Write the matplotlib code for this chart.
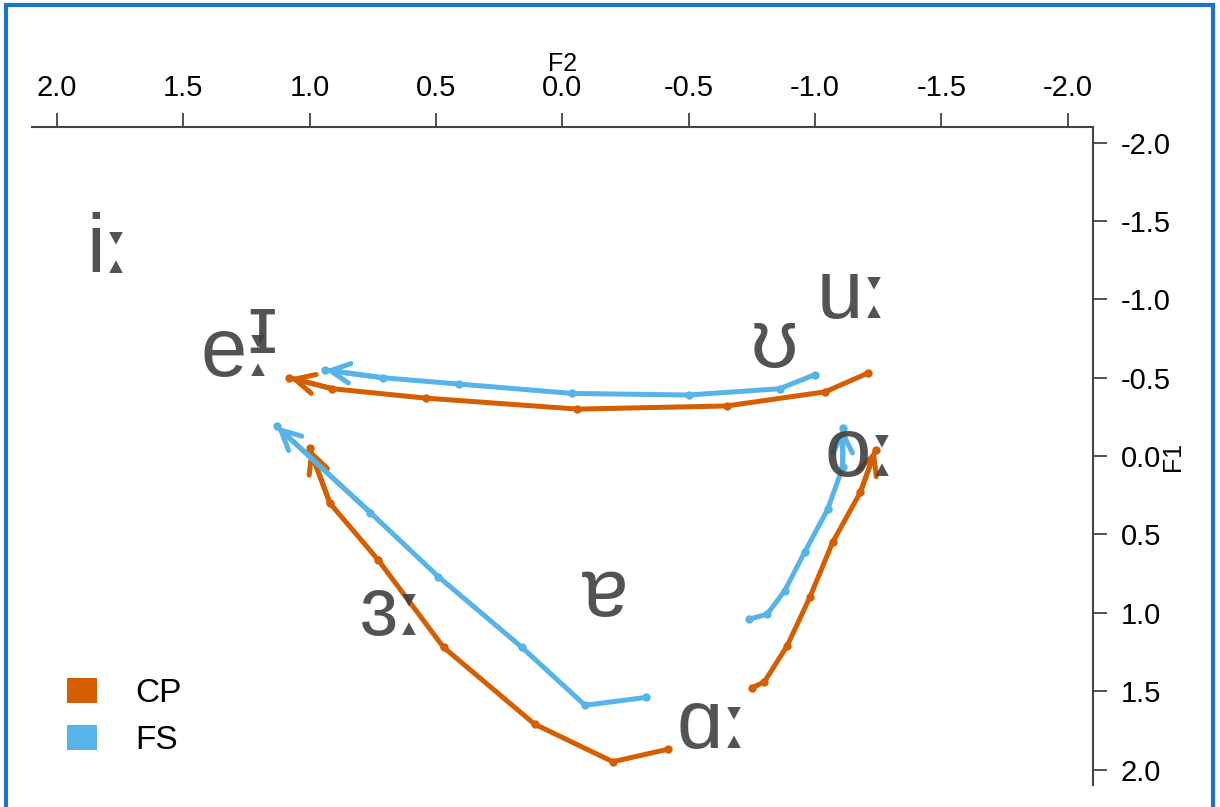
import matplotlib
matplotlib.use("Agg")
import matplotlib.pyplot as plt
from matplotlib.patches import Patch, Rectangle

# trajectories (F2, F1), start -> end
cp_top_f2 = [-1.21, -1.04, -0.65, -0.06, 0.54, 0.91, 1.08]
cp_top_f1 = [-0.53, -0.41, -0.32, -0.30, -0.37, -0.43, -0.50]
cp_left_f2 = [-0.42, -0.20, 0.11, 0.47, 0.73, 0.92, 1.00]
cp_left_f1 = [1.87, 1.95, 1.71, 1.22, 0.66, 0.30, -0.05]
cp_right_f2 = [-0.75, -0.80, -0.89, -0.98, -1.07, -1.18, -1.24]
cp_right_f1 = [1.48, 1.44, 1.21, 0.90, 0.55, 0.23, -0.04]

fs_top_f2 = [-1.00, -0.86, -0.50, -0.04, 0.41, 0.71, 0.94]
fs_top_f1 = [-0.52, -0.43, -0.39, -0.40, -0.46, -0.50, -0.55]
fs_left_f2 = [-0.33, -0.09, 0.16, 0.49, 0.76, 1.13]
fs_left_f1 = [1.54, 1.59, 1.22, 0.77, 0.36, -0.19]
fs_right_f2 = [-0.74, -0.81, -0.88, -0.96, -1.05, -1.11, -1.11]
fs_right_f1 = [1.04, 1.01, 0.86, 0.61, 0.34, 0.07, -0.18]

# vowel labels (position = baseline, at the join of vowel and length mark)
vowels = ["iː", "eː", "ɪ", "uː", "ʊ", "oː", "ɜː", "ɐ", "ɑː"]
vowel_f2 = [1.81, 1.25, 1.19, -1.19, -0.84, -1.22, 0.65, -0.17, -0.635]
vowel_f1 = [-1.17, -0.51, -0.66, -0.88, -0.57, 0.13, 1.14, 1.02, 1.86]

ticks = [2.0, 1.5, 1.0, 0.5, 0.0, -0.5, -1.0, -1.5, -2.0]
tick_labels = ["2.0", "1.5", "1.0", "0.5", "0.0", "-0.5", "-1.0", "-1.5", "-2.0"]

CP_COL = "#D55E00"
FS_COL = "#56B4E9"
TXT_COL = "#404040"

plt.rcParams['font.family'] = ['Liberation Sans', 'DejaVu Sans']

fig = plt.figure(figsize=(12.2, 8.07), dpi=100)
ax = fig.add_axes([0.026, 0.027, 0.8698, 0.8156])


def trajectory(f2, f1, col):
    ax.plot(f2, f1, color=col, lw=3.6, marker='o', markersize=5,
            solid_capstyle='round', zorder=3)
    ax.annotate('', xy=(f2[-1], f1[-1]), xytext=(f2[-2], f1[-2]),
                arrowprops=dict(arrowstyle='->,head_length=0.7,head_width=0.35',
                                color=col, lw=3.6, shrinkA=0, shrinkB=0,
                                mutation_scale=20),
                zorder=3)


trajectory(cp_top_f2, cp_top_f1, CP_COL)
trajectory(cp_left_f2, cp_left_f1, CP_COL)
trajectory(cp_right_f2, cp_right_f1, CP_COL)
trajectory(fs_top_f2, fs_top_f1, FS_COL)
trajectory(fs_left_f2, fs_left_f1, FS_COL)
trajectory(fs_right_f2, fs_right_f1, FS_COL)

for v, x, y in zip(vowels, vowel_f2, vowel_f1):
    if v.endswith('ː'):
        # length mark drawn in DejaVu for the bigger triangles
        ax.text(x, y, v[:-1], fontsize=60, color=TXT_COL, alpha=0.9,
                ha='right', va='baseline', zorder=4)
        ax.text(x, y, 'ː', fontsize=56, color=TXT_COL, alpha=0.9,
                family='DejaVu Sans', ha='left', va='baseline', zorder=4)
    else:
        ax.text(x, y, v, fontsize=60, color=TXT_COL, alpha=0.9,
                ha='center', va='baseline', zorder=4)

ax.set_xlim(2.1, -2.1)
ax.set_ylim(2.1, -2.1)

ax.xaxis.tick_top()
ax.xaxis.set_label_position('top')
ax.yaxis.tick_right()
ax.yaxis.set_label_position('right')
ax.set_xticks(ticks)
ax.set_xticklabels(tick_labels)
ax.set_yticks(ticks[::-1])
ax.set_yticklabels(tick_labels[::-1])
ax.tick_params(axis='both', labelsize=21, colors='#333333', labelcolor='black',
               length=10, width=1.2, direction='out')
ax.tick_params(axis='x', pad=8)
ax.tick_params(axis='y', pad=10)

ax.set_xlabel('F2', fontsize=18, labelpad=2)
ax.set_ylabel('F1', fontsize=18, labelpad=-7, rotation=90)

for s in ['left', 'bottom']:
    ax.spines[s].set_visible(False)
for s in ['top', 'right']:
    ax.spines[s].set_color('#444444')
    ax.spines[s].set_linewidth(1.5)

handles = [Patch(facecolor=CP_COL, edgecolor='none', label='CP'),
           Patch(facecolor=FS_COL, edgecolor='none', label='FS')]
fig.legend(handles=handles, loc='lower left', bbox_to_anchor=(0.055, 0.063),
           frameon=False, fontsize=24, handlelength=0.9, handleheight=0.75,
           handletextpad=1.15, labelspacing=0.48, borderpad=0,
           borderaxespad=0)

# blue frame around the figure
fig.patches.append(Rectangle((0.005, -0.05), 0.989, 1.05 - 0.006,
                             transform=fig.transFigure, fill=False,
                             edgecolor='#1C74C9', lw=3, zorder=10))

fig.savefig('out.png', dpi=100)
